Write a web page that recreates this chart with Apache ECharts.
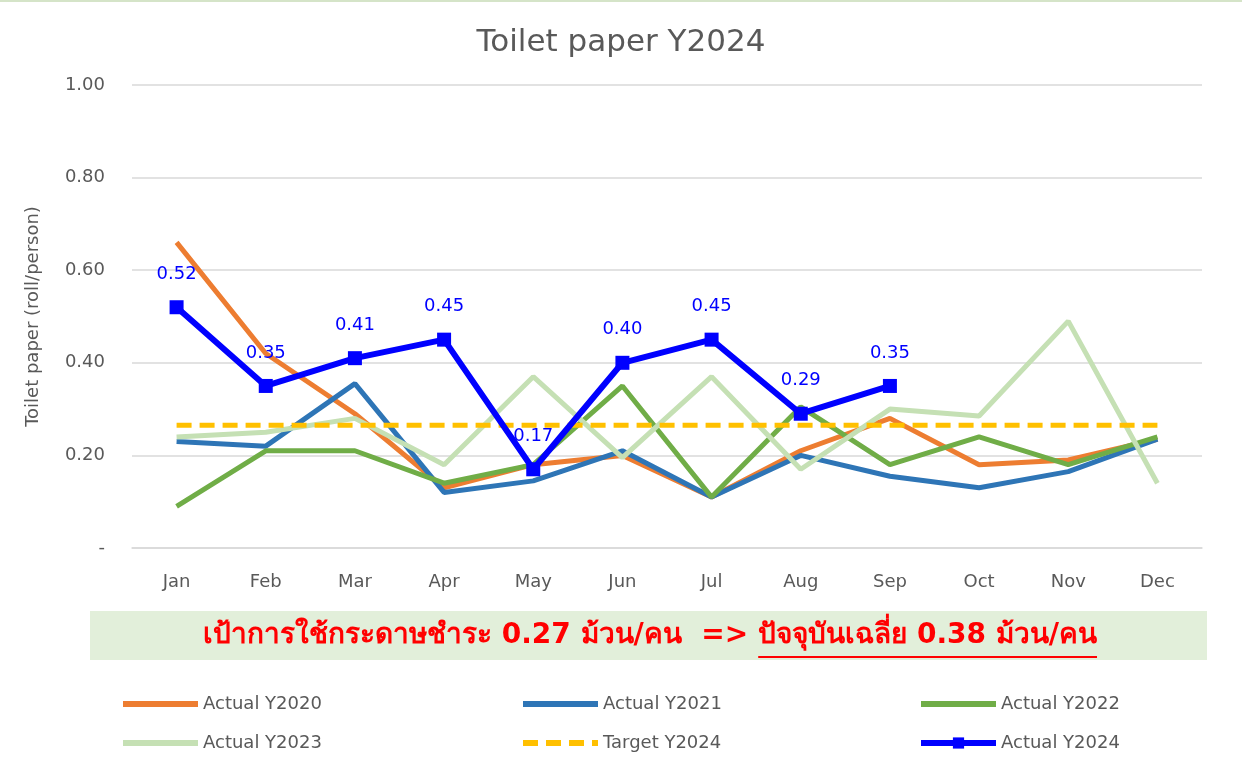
<!DOCTYPE html>
<html>
<head>
<meta charset="UTF-8">
<title>Toilet paper Y2024</title>
<script type="text/javascript" src="https://cdn.jsdelivr.net/npm/echarts@6/dist/echarts.min.js"></script>
<style>
  html, body { margin: 0; padding: 0; background: #fff; }
  #container { width: 1242px; height: 757px; }
</style>
</head>
<body>
<div id="container"></div>
<script type="text/javascript">
    // data
    var months = ['Jan', 'Feb', 'Mar', 'Apr', 'May', 'Jun', 'Jul', 'Aug', 'Sep', 'Oct', 'Nov', 'Dec'];
    var actual2020 = [0.66, 0.42, 0.29, 0.13, 0.18, 0.20, 0.11, 0.21, 0.28, 0.18, 0.19, 0.235];
    var actual2021 = [0.23, 0.22, 0.355, 0.12, 0.145, 0.21, 0.11, 0.20, 0.155, 0.13, 0.165, 0.235];
    var actual2022 = [0.09, 0.21, 0.21, 0.14, 0.18, 0.35, 0.11, 0.305, 0.18, 0.24, 0.18, 0.24];
    var actual2023 = [0.24, 0.25, 0.28, 0.18, 0.37, 0.195, 0.37, 0.17, 0.30, 0.285, 0.49, 0.14];
    var target2024 = [0.265, 0.265, 0.265, 0.265, 0.265, 0.265, 0.265, 0.265, 0.265, 0.265, 0.265, 0.265];
    var actual2024 = [0.52, 0.35, 0.41, 0.45, 0.17, 0.40, 0.45, 0.29, 0.35];
    var yTicks = [0, 0.2, 0.4, 0.6, 0.8, 1.0];
    var noteTarget = 'เป้าการใช้กระดาษชำระ 0.27 ม้วน/คน  =>';
    var noteNow = 'ปัจจุบันเฉลี่ย 0.38 ม้วน/คน';

    var font = '"DejaVu Sans", "Noto Sans", sans-serif';
    var grey = '#595959';

    var chart = echarts.init(document.getElementById('container'));

    function lineSeries(name, data, color, extra) {
        var s = {
            name: name,
            type: 'line',
            data: data,
            symbol: 'none',
            lineStyle: {color: color, width: 5},
            itemStyle: {color: color},
            emphasis: {disabled: true}
        };
        for (var k in extra) { s[k] = extra[k]; }
        return s;
    }

    // legend entries: plain lines have no marker
    function plain(name) { return {name: name, itemStyle: {opacity: 0}}; }

    var legendBase = {
        orient: 'vertical',
        top: 690,
        itemWidth: 75,
        itemHeight: 14,
        itemGap: 21,
        lineStyle: {width: 6},
        textStyle: {color: grey, fontSize: 18, fontFamily: font}
    };

    // note text in the green band, second half underlined
    var noteFont = 'bold 28px ' + font;
    var ctx = document.createElement('canvas').getContext('2d');
    ctx.font = noteFont;
    var w1 = ctx.measureText(noteTarget).width;
    var w2 = ctx.measureText(noteNow).width;
    var gap = 10;
    var noteLeft = 650 - (w1 + gap + w2) / 2;
    var noteY = 636;

    chart.setOption({
        animation: false,
        title: {
            text: 'Toilet paper Y2024',
            left: 'center',
            top: 22,
            textStyle: {color: grey, fontSize: 31, fontWeight: 'normal', fontFamily: font}
        },
        grid: {left: 132, right: 40, top: 85, bottom: 209},
        legend: [
            Object.assign({left: 115, data: [plain('Actual Y2020'), plain('Actual Y2023')]}, legendBase),
            Object.assign({left: 515, data: [plain('Actual Y2021'), plain('Target Y2024')]}, legendBase),
            Object.assign({left: 913, data: [plain('Actual Y2022'), 'Actual Y2024']}, legendBase)
        ],
        xAxis: {
            type: 'category',
            data: months,
            axisLine: {lineStyle: {color: '#D9D9D9', width: 1.5}},
            axisTick: {show: false},
            axisLabel: {color: grey, fontSize: 18, margin: 25, fontFamily: font}
        },
        yAxis: {
            type: 'value',
            min: yTicks[0],
            max: yTicks[yTicks.length - 1],
            interval: 0.2,
            name: 'Toilet paper (roll/person)',
            nameLocation: 'middle',
            nameGap: 90,
            nameTextStyle: {color: grey, fontSize: 18, fontFamily: font},
            axisLine: {show: false},
            axisTick: {show: false},
            splitLine: {lineStyle: {color: '#D9D9D9', width: 1.5}},
            axisLabel: {
                color: grey, fontSize: 18, margin: 27, fontFamily: font,
                formatter: function (v) { return v === 0 ? '-' : v.toFixed(2); }
            }
        },
        series: [
            lineSeries('Actual Y2020', actual2020, '#ED7D31'),
            lineSeries('Actual Y2021', actual2021, '#2E75B6'),
            lineSeries('Actual Y2022', actual2022, '#70AD47'),
            lineSeries('Actual Y2023', actual2023, '#C5E0B4'),
            lineSeries('Target Y2024', target2024, '#FFC000', {
                lineStyle: {color: '#FFC000', width: 5, type: [15, 8]}
            }),
            lineSeries('Actual Y2024', actual2024, '#0000FF', {
                symbol: 'rect',
                symbolSize: 14,
                lineStyle: {color: '#0000FF', width: 6},
                label: {
                    show: true,
                    position: 'top',
                    distance: 17,
                    color: '#0000FF',
                    fontSize: 18,
                    fontFamily: font,
                    formatter: function (p) { return p.value.toFixed(2); }
                }
            })
        ],
        graphic: [
            {type: 'rect', shape: {x: 0, y: 0, width: 1242, height: 2}, style: {fill: '#D5E4C8'}},
            {type: 'rect', shape: {x: 90, y: 611, width: 1117, height: 49}, style: {fill: '#E2EFDA'}},
            {
                type: 'text', x: noteLeft, y: noteY,
                style: {text: noteTarget, font: noteFont, fill: '#FF0000', align: 'left', verticalAlign: 'middle'}
            },
            {
                type: 'text', x: noteLeft + w1 + gap, y: noteY,
                style: {text: noteNow, font: noteFont, fill: '#FF0000', align: 'left', verticalAlign: 'middle'}
            },
            {
                type: 'line',
                shape: {x1: noteLeft + w1 + gap, y1: noteY + 21, x2: noteLeft + w1 + gap + w2, y2: noteY + 21},
                style: {stroke: '#FF0000', lineWidth: 2}
            }
        ]
    });
</script>
</body>
</html>
